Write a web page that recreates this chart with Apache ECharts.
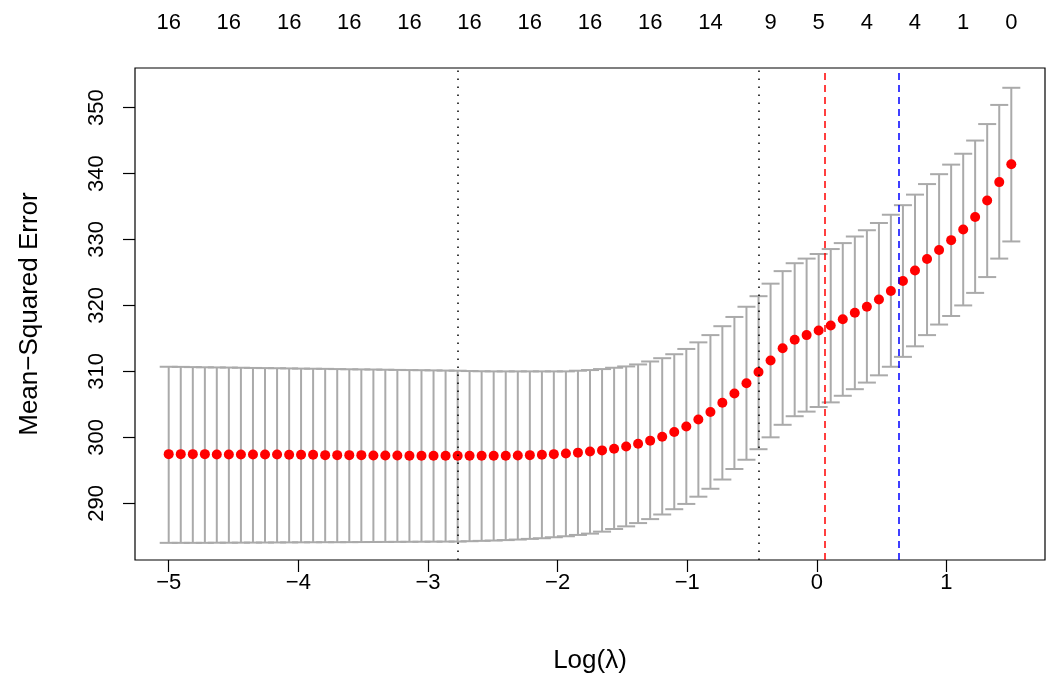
<!DOCTYPE html>
<html>
<head>
<meta charset="utf-8">
<script src="https://cdn.jsdelivr.net/npm/echarts@6/dist/echarts.min.js"></script>
<style>
  html, body { margin: 0; padding: 0; background: #fff; }
  #chart { width: 1051px; height: 679px; }
</style>
</head>
<body>
<div id="chart"></div>
<script>
// log(lambda) of each fit along the path
const logLambda = [
  -5.000, -4.907, -4.814, -4.721, -4.629, -4.536, -4.443, -4.350, -4.257, -4.164,
  -4.071, -3.979, -3.886, -3.793, -3.700, -3.607, -3.514, -3.421, -3.329, -3.236,
  -3.143, -3.050, -2.957, -2.864, -2.771, -2.679, -2.586, -2.493, -2.400, -2.307,
  -2.214, -2.121, -2.029, -1.936, -1.843, -1.750, -1.657, -1.564, -1.471, -1.379,
  -1.286, -1.193, -1.100, -1.007, -0.914, -0.821, -0.729, -0.636, -0.543, -0.450,
  -0.357, -0.264, -0.171, -0.079, 0.014, 0.107, 0.200, 0.293, 0.386, 0.479,
  0.571, 0.664, 0.757, 0.850, 0.943, 1.036, 1.129, 1.221, 1.314, 1.407,
  1.500
];
// mean cross-validated error
const cvm = [
  297.45, 297.45, 297.45, 297.45, 297.4, 297.4, 297.4, 297.4, 297.4, 297.4,
  297.35, 297.35, 297.35, 297.3, 297.3, 297.3, 297.3, 297.25, 297.25, 297.25,
  297.2, 297.2, 297.2, 297.2, 297.2, 297.2, 297.2, 297.2, 297.2, 297.25,
  297.3, 297.35, 297.45, 297.55, 297.68, 297.84, 298.02, 298.27, 298.62, 299.03,
  299.5, 300.08, 300.8, 301.63, 302.7, 303.85, 305.25, 306.65, 308.2, 309.9,
  311.65, 313.5, 314.8, 315.5, 316.2, 316.95, 317.9, 318.9, 319.8, 320.9,
  322.2, 323.7, 325.3, 327.05, 328.4, 329.9, 331.5, 333.4, 335.9, 338.7,
  341.4
];
// upper bar (mean + 1 se)
const cvup = [
  310.7, 310.68, 310.65, 310.62, 310.6, 310.58, 310.55, 310.52, 310.5, 310.48,
  310.45, 310.42, 310.4, 310.38, 310.35, 310.32, 310.3, 310.28, 310.25, 310.22,
  310.2, 310.18, 310.15, 310.12, 310.1, 310.05, 310.02, 310.0, 310.0, 310.0,
  310.0, 310.0, 310.0, 310.0, 310.1, 310.2, 310.35, 310.55, 310.75, 311.05,
  311.5, 312.0, 312.6, 313.4, 314.4, 315.5, 316.85, 318.25, 319.8, 321.4,
  323.3, 325.2, 326.4, 327.1, 327.8, 328.55, 329.45, 330.45, 331.4, 332.5,
  333.75, 335.2, 336.8, 338.4, 339.9, 341.35, 343.0, 345.0, 347.5, 350.4,
  353.0
];
// lower bar (mean - 1 se)
const cvlo = [
  284.0, 284.0, 284.0, 284.0, 284.02, 284.02, 284.03, 284.04, 284.05, 284.06,
  284.07, 284.08, 284.09, 284.1, 284.1, 284.11, 284.12, 284.13, 284.14, 284.15,
  284.16, 284.17, 284.18, 284.19, 284.2, 284.25, 284.3, 284.35, 284.42, 284.5,
  284.6, 284.7, 284.85, 285.0, 285.2, 285.4, 285.7, 286.1, 286.5, 287.0,
  287.6, 288.3, 289.1, 289.9, 291.0, 292.2, 293.6, 295.2, 296.6, 298.2,
  300.0, 301.9, 303.2, 303.9, 304.6, 305.3, 306.3, 307.3, 308.3, 309.4,
  310.7, 312.2, 313.8, 315.5, 317.1, 318.4, 320.0, 321.9, 324.3, 327.1,
  329.7
];
// number of non-zero coefficients shown along the top
const nzPos = [-5.000, -4.536, -4.071, -3.607, -3.143, -2.679, -2.214, -1.750,
               -1.286, -0.821, -0.357, 0.014, 0.386, 0.757, 1.129, 1.500];
const nzLabel = ["16", "16", "16", "16", "16", "16", "16", "16",
                 "16", "14", "9", "5", "4", "4", "1", "0"];
const xTicks = [-5, -4, -3, -2, -1, 0, 1];
const yTicks = [290, 300, 310, 320, 330, 340, 350];
// vertical reference lines
const vlines = [
  { x: -2.77, color: "#000000", type: [1.5, 6.5] },
  { x: -0.45, color: "#000000", type: [1.5, 6.5] },
  { x: 0.062, color: "#ff0000", type: [7, 5] },
  { x: 0.634, color: "#0000ff", type: [7, 5] }
];

const font = "Liberation Sans";
const minus = (v) => String(v).replace("-", "\u2212");

let myChart = echarts.init(document.getElementById("chart"));

let option = {
  animation: false,
  backgroundColor: "#ffffff",
  textStyle: { fontFamily: font, color: "#000" },
  grid: {
    left: 135,
    right: 6,
    top: 68,
    bottom: 117,
    show: true,
    borderColor: "#000",
    borderWidth: 1.2,
    backgroundColor: "transparent",
  },
  xAxis: [
    {
      type: "value",
      min: -5.26,
      max: 1.76,
      position: "bottom",
      name: "Log(λ)",
      nameLocation: "middle",
      nameGap: 88,
      nameTextStyle: { fontSize: 26, color: "#000", fontFamily: font },
      axisLine: { show: false, onZero: false },
      axisTick: {
        show: true,
        length: 12,
        customValues: xTicks,
        lineStyle: { color: "#000", width: 1.2 },
      },
      axisLabel: {
        customValues: xTicks,
        fontSize: 22,
        color: "#000",
        margin: 12,
        formatter: minus,
      },
      splitLine: { show: false },
    },
    {
      type: "value",
      min: -5.26,
      max: 1.76,
      position: "top",
      axisLine: { show: false, onZero: false },
      axisTick: { show: false },
      axisLabel: {
        customValues: nzPos,
        fontSize: 22,
        color: "#000",
        margin: 34,
        formatter: (v) => {
          let i = nzPos.findIndex((p) => Math.abs(p - v) < 1e-6);
          return i >= 0 ? nzLabel[i] : "";
        },
      },
      splitLine: { show: false },
    },
  ],
  yAxis: {
    type: "value",
    min: 281.4,
    max: 356.0,
    position: "left",
    name: "Mean−Squared Error",
    nameLocation: "middle",
    nameGap: 92,
    nameTextStyle: { fontSize: 26, color: "#000", fontFamily: font },
    axisLine: { show: false, onZero: false },
    axisTick: {
      show: true,
      length: 12,
      customValues: yTicks,
      lineStyle: { color: "#000", width: 1.2 },
    },
    axisLabel: {
      customValues: yTicks,
      rotate: 90,
      fontSize: 22,
      color: "#000",
      margin: 27,
    },
    splitLine: { show: false },
  },
  series: [
    {
      name: "bars",
      type: "custom",
      xAxisIndex: 0,
      data: logLambda.map((x, i) => [x, cvlo[i], cvup[i]]),
      encode: { x: 0, y: [1, 2] },
      renderItem: function (params, api) {
        let lo = api.coord([api.value(0), api.value(1)]);
        let hi = api.coord([api.value(0), api.value(2)]);
        let hw = 9;
        let st = { stroke: "#aaaaaa", lineWidth: 2 };
        return {
          type: "group",
          children: [
            { type: "line", shape: { x1: lo[0], y1: lo[1], x2: hi[0], y2: hi[1] }, style: st },
            { type: "line", shape: { x1: lo[0] - hw, y1: lo[1], x2: lo[0] + hw, y2: lo[1] }, style: st },
            { type: "line", shape: { x1: hi[0] - hw, y1: hi[1], x2: hi[0] + hw, y2: hi[1] }, style: st },
          ],
        };
      },
      z: 2,
    },
    {
      name: "mse",
      type: "scatter",
      xAxisIndex: 0,
      data: logLambda.map((x, i) => [x, cvm[i]]),
      symbol: "circle",
      symbolSize: 10,
      itemStyle: { color: "#ff0000", opacity: 1 },
      z: 3,
    },
    {
      name: "refs",
      type: "line",
      xAxisIndex: 0,
      data: [],
      markLine: {
        silent: true,
        symbol: ["none", "none"],
        label: { show: false },
        data: vlines.map((v) => ({
          xAxis: v.x,
          lineStyle: { color: v.color, type: v.type, width: 1.5 },
        })),
      },
      z: 4,
    },
  ],
};

myChart.setOption(option);
window.addEventListener("resize", function () {
  myChart.resize();
});
</script>
</body>
</html>
